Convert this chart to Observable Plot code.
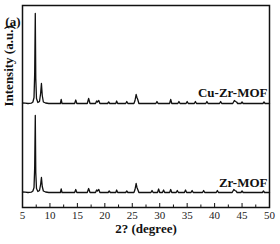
<!DOCTYPE html>
<html><head><meta charset="utf-8">
<script src="https://cdn.jsdelivr.net/npm/d3@7"></script>
<script src="https://cdn.jsdelivr.net/npm/@observablehq/plot@0.6"></script>
<style>
body{margin:0;background:#fff;}
svg{font-family:"Liberation Serif","DejaVu Serif",serif;}
</style></head><body><div id="chart"></div>
<script>
// Cu-Zr-MOF pattern (2θ, intensity above its baseline, a.u.)
const cuX = [5.0,5.5,6.0,6.6,6.9,7.1,7.22,7.33,7.42,7.55,7.8,8.1,8.3,8.45,8.6,8.8,9.2,9.8,11.9,12.05,12.2,14.5,14.7,14.9,16.8,17.05,17.3,18.3,18.5,18.65,18.9,19.1,20.5,20.7,20.9,22.0,22.15,22.35,23.8,24.0,24.2,25.3,25.5,25.7,25.85,26.0,26.2,29.3,29.5,29.7,31.8,32.0,32.2,33.3,33.5,33.7,34.8,35.0,35.2,36.3,36.5,36.7,38.4,38.6,38.8,40.9,41.1,41.3,43.3,43.6,43.8,44.0,44.2,44.8,45.0,45.2,48.8,49.0,49.2,50.0];
const cuY = [0.5,0.3,0,0.3,1.5,6,30,90,25,5,1,2,10,20,8,1.5,0.5,0,0,4,0,0,3.5,0,0,5,0,0,2.5,1.5,3,0,0,1.5,0,0,2.5,0,0,2,0,0,3,9,6,4,0,0,2,0,0,4,0,0,2,0,0,2,0,0,2,0,0,2,0,0,2,0,0,3,2,1.5,0,0,1.5,0,0,1.5,0,0];
// Zr-MOF pattern
const zrX = [5.0,5.5,6.0,6.6,6.9,7.1,7.22,7.33,7.42,7.55,7.8,8.1,8.3,8.45,8.6,8.8,9.2,9.8,11.9,12.05,12.2,14.5,14.7,14.9,16.8,17.05,17.3,18.3,18.5,18.65,18.9,19.1,20.6,20.8,21.0,22.0,22.15,22.35,23.8,24.0,24.2,25.3,25.5,25.7,25.85,26.0,26.2,28.4,28.6,28.8,29.6,29.8,30.0,30.5,30.7,30.9,31.8,32.0,32.2,33.0,33.2,33.4,34.5,34.7,34.9,35.7,35.9,36.1,37.8,38.0,38.2,40.3,40.5,40.7,43.2,43.5,43.7,43.9,44.1,44.8,45.0,45.2,48.7,48.9,49.1,50.0];
const zrY = [0.5,0.3,0,0.3,1.5,5,25,77,20,4,1,2,8,15,6,1.5,0.5,0,0,3.5,0,0,3,0,0,4,0,0,2.5,1.5,3,0,0,1.5,0,0,2.5,0,0,1.5,0,0,3,9,5,3,0,0,2,0,0,3.5,0,0,2.5,0,0,3,0,0,2,0,0,2.5,0,0,2,0,0,2,0,0,2,0,0,3,2,1.5,0,0,1.5,0,0,1.5,0,0];
const cuOffset = 104, zrOffset = 15;
const seriesNames = ["Cu-Zr-MOF", "Zr-MOF"];
const majorTicks = [5,10,15,20,25,30,35,40,45,50];
const minorTicks = [7.5,12.5,17.5,22.5,27.5,32.5,37.5,42.5,47.5];

const cu = cuX.map((x,i)=>({x, y: cuY[i] + cuOffset}));
const zr = zrX.map((x,i)=>({x, y: zrY[i] + zrOffset}));

const chart = Plot.plot({
  width: 280, height: 244,
  marginLeft: 22, marginRight: 11, marginTop: 5, marginBottom: 37,
  x: {domain: [5, 50], axis: null},
  y: {domain: [0, 202], axis: null},
  marks: [
    Plot.line(cu, {x: "x", y: "y", stroke: "#111", strokeWidth: 1.3}),
    Plot.line(zr, {x: "x", y: "y", stroke: "#111", strokeWidth: 1.3}),
    Plot.ruleX(majorTicks, {x: d => d, y1: 0, y2: 4, stroke: "#111", strokeWidth: 1}),
    Plot.ruleX(minorTicks, {x: d => d, y1: 0, y2: 2.5, stroke: "#111", strokeWidth: 1}),
    Plot.frame({stroke: "#111", strokeWidth: 1.5}),
    Plot.text(majorTicks, {x: d => d, y: 0, text: d => String(d), dy: 8, fontSize: 11, fill: "#222", textAnchor: "middle"}),
    Plot.text([seriesNames[0]], {x: 50, y: cuOffset, text: d => d, dx: -2, dy: -11, textAnchor: "end", fontSize: 13, fontWeight: "bold", fill: "#111"}),
    Plot.text([seriesNames[1]], {x: 50, y: zrOffset, text: d => d, dx: -2, dy: -10, textAnchor: "end", fontSize: 13, fontWeight: "bold", fill: "#111"}),
    Plot.text(["2? (degree)"], {frameAnchor: "bottom", dy: 25, fontSize: 13, fontWeight: "bold", fill: "#111"}),
    Plot.text(["Intensity (a.u.)"], {frameAnchor: "left", dx: -14, rotate: -90, fontSize: 13, fontWeight: "bold", fill: "#111"}),
    Plot.text(["(a)"], {frameAnchor: "top-left", textAnchor: "end", dx: -2, dy: 11, fontSize: 13, fontWeight: "bold", fill: "#111"})
  ]
});
document.getElementById("chart").appendChild(chart);
</script></body></html>
